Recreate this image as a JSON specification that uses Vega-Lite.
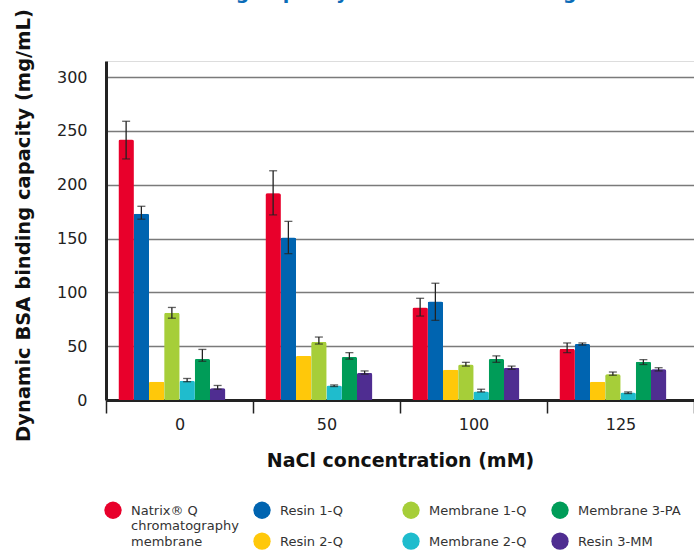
{
  "$schema": "https://vega.github.io/schema/vega-lite/v6.json",
  "width": 588,
  "height": 339,
  "autosize": {"type": "none"},
  "padding": {"left": 106, "top": 61, "right": 0, "bottom": 150},
  "background": "white",
  "title": {
    "text": "BSA Binding Capacity at 10 % Breakthrough",
    "frame": "bounds",
    "anchor": "middle",
    "font": "DejaVu Sans",
    "fontSize": 19,
    "fontWeight": "bold",
    "color": "#0a6cb8",
    "dy": -2
  },
  "data": {
    "values": [
      {"nacl": "0", "series": "Natrix® Q chromatography membrane", "value": 242, "lo": 224, "hi": 259},
      {"nacl": "0", "series": "Resin 1-Q", "value": 173, "lo": 168, "hi": 180},
      {"nacl": "0", "series": "Resin 2-Q", "value": 17, "lo": null, "hi": null},
      {"nacl": "0", "series": "Membrane 1-Q", "value": 81, "lo": 76, "hi": 86},
      {"nacl": "0", "series": "Membrane 2-Q", "value": 18, "lo": 17, "hi": 20},
      {"nacl": "0", "series": "Membrane 3-PA", "value": 38, "lo": 36, "hi": 47},
      {"nacl": "0", "series": "Resin 3-MM", "value": 11, "lo": 10, "hi": 13.5},
      {"nacl": "50", "series": "Natrix® Q chromatography membrane", "value": 192, "lo": 172, "hi": 213},
      {"nacl": "50", "series": "Resin 1-Q", "value": 151, "lo": 136, "hi": 166},
      {"nacl": "50", "series": "Resin 2-Q", "value": 41, "lo": null, "hi": null},
      {"nacl": "50", "series": "Membrane 1-Q", "value": 54, "lo": 52, "hi": 58.5},
      {"nacl": "50", "series": "Membrane 2-Q", "value": 13.5, "lo": 12.5, "hi": 14},
      {"nacl": "50", "series": "Membrane 3-PA", "value": 40, "lo": 38, "hi": 44},
      {"nacl": "50", "series": "Resin 3-MM", "value": 25, "lo": 24, "hi": 27},
      {"nacl": "100", "series": "Natrix® Q chromatography membrane", "value": 86, "lo": 78, "hi": 94.5},
      {"nacl": "100", "series": "Resin 1-Q", "value": 91.5, "lo": 74, "hi": 108.5},
      {"nacl": "100", "series": "Resin 2-Q", "value": 28, "lo": null, "hi": null},
      {"nacl": "100", "series": "Membrane 1-Q", "value": 33, "lo": 31.5, "hi": 35},
      {"nacl": "100", "series": "Membrane 2-Q", "value": 8, "lo": 7.5, "hi": 10},
      {"nacl": "100", "series": "Membrane 3-PA", "value": 38, "lo": 35, "hi": 41},
      {"nacl": "100", "series": "Resin 3-MM", "value": 30, "lo": 28.5, "hi": 31.5},
      {"nacl": "125", "series": "Natrix® Q chromatography membrane", "value": 47.5, "lo": 44, "hi": 53},
      {"nacl": "125", "series": "Resin 1-Q", "value": 52, "lo": 51, "hi": 53},
      {"nacl": "125", "series": "Resin 2-Q", "value": 17, "lo": null, "hi": null},
      {"nacl": "125", "series": "Membrane 1-Q", "value": 24, "lo": 23, "hi": 26},
      {"nacl": "125", "series": "Membrane 2-Q", "value": 7, "lo": 6, "hi": 7.5},
      {"nacl": "125", "series": "Membrane 3-PA", "value": 35.5, "lo": 33, "hi": 37.5},
      {"nacl": "125", "series": "Resin 3-MM", "value": 28.5, "lo": 27, "hi": 30}
    ]
  },
  "encoding": {
    "x": {
      "field": "nacl",
      "type": "nominal",
      "sort": ["0", "50", "100", "125"],
      "scale": {"paddingInner": 0, "paddingOuter": 0},
      "axis": {
        "title": "NaCl concentration (mM)",
        "labelAngle": 0,
        "tickBand": "extent",
        "domainWidth": 3,
        "domainColor": "#222222",
        "tickSize": 13,
        "tickWidth": 1.5,
        "tickColor": "#222222",
        "labelFont": "DejaVu Sans",
        "labelFontSize": 16,
        "labelColor": "#222222",
        "labelPadding": 3,
        "titleFont": "DejaVu Sans",
        "titleFontSize": 19,
        "titleFontWeight": "bold",
        "titleColor": "#111111",
        "titlePadding": 19,
        "grid": false
      }
    },
    "xOffset": {
      "field": "series",
      "type": "nominal",
      "scale": {
        "domain": ["Natrix® Q chromatography membrane", "Resin 1-Q", "Resin 2-Q", "Membrane 1-Q", "Membrane 2-Q", "Membrane 3-PA", "Resin 3-MM", " "],
        "paddingInner": 0,
        "paddingOuter": 0.82
      }
    },
    "y": {
      "field": "value",
      "type": "quantitative",
      "scale": {"domain": [0, 315], "nice": false},
      "axis": {
        "title": "Dynamic BSA binding capacity (mg/mL)",
        "values": [0, 50, 100, 150, 200, 250, 300],
        "grid": true,
        "gridColor": "#7a7a7a",
        "gridWidth": 1.5,
        "domainWidth": 3,
        "domainColor": "#222222",
        "ticks": false,
        "labelFont": "DejaVu Sans",
        "labelFontSize": 16,
        "labelColor": "#222222",
        "labelPadding": 19,
        "titleFont": "DejaVu Sans",
        "titleFontSize": 19.5,
        "titleFontWeight": "bold",
        "titleColor": "#111111",
        "titlePadding": 23,
        "titleY": 164
      }
    }
  },
  "layer": [
    {
      "mark": {"type": "bar", "cornerRadiusEnd": 2},
      "encoding": {
        "color": {
          "field": "series",
          "type": "nominal",
          "scale": {
            "domain": ["Natrix® Q chromatography membrane", "Resin 1-Q", "Membrane 1-Q", "Membrane 3-PA", "Resin 2-Q", "Membrane 2-Q", "Resin 3-MM"],
            "range": ["#e8002b", "#0064b0", "#a6ce39", "#009c58", "#ffc80a", "#1fbccd", "#4f2d91"]
          },
          "legend": {
            "title": null,
            "values": ["Natrix® Q chromatography membrane", "Resin 1-Q", "Membrane 1-Q", "Membrane 3-PA"],
            "orient": "none",
            "direction": "horizontal",
            "legendX": -2,
            "legendY": 440,
            "columns": 4,
            "gridAlign": "all",
            "columnPadding": 14,
            "symbolType": "circle",
            "symbolSize": 300,
            "symbolStrokeWidth": 0,
            "labelFont": "DejaVu Sans",
            "labelFontSize": 13,
            "labelColor": "#333333",
            "labelOffset": 9,
            "labelLimit": 300,
            "labelBaseline": "alphabetic",
            "labelExpr": "datum.label == 'Natrix® Q chromatography membrane' ? ['Natrix® Q', 'chromatography', 'membrane'] : [datum.label, '', '']",
            "encode": {"labels": {"update": {"dy": {"value": 4.5}, "lineHeight": {"value": 15.5}}}}
          }
        }
      }
    },
    {
      "mark": {"type": "bar", "cornerRadiusEnd": 2},
      "encoding": {
        "fill": {
          "field": "series",
          "type": "nominal",
          "scale": {
            "domain": ["Resin 2-Q", "Membrane 2-Q", "Resin 3-MM", "Natrix® Q chromatography membrane", "Resin 1-Q", "Membrane 1-Q", "Membrane 3-PA"],
            "range": ["#ffc80a", "#1fbccd", "#4f2d91", "#e8002b", "#0064b0", "#a6ce39", "#009c58"]
          },
          "legend": {
            "title": null,
            "values": ["Resin 2-Q", "Membrane 2-Q", "Resin 3-MM"],
            "orient": "none",
            "direction": "horizontal",
            "legendX": 147,
            "legendY": 471,
            "columns": 3,
            "gridAlign": "all",
            "columnPadding": 24,
            "symbolType": "circle",
            "symbolSize": 300,
            "symbolStrokeWidth": 0,
            "labelFont": "DejaVu Sans",
            "labelFontSize": 13,
            "labelColor": "#333333",
            "labelOffset": 9,
            "labelLimit": 300,
            "labelBaseline": "alphabetic",
            "encode": {"labels": {"update": {"dy": {"value": 4.5}}}}
          }
        }
      }
    },
    {
      "mark": {"type": "rule", "color": "#222222", "strokeWidth": 1.3},
      "encoding": {
        "y": {"field": "lo", "type": "quantitative"},
        "y2": {"field": "hi"}
      }
    },
    {
      "mark": {"type": "tick", "color": "#222222", "thickness": 1.3, "size": 8},
      "encoding": {
        "y": {"field": "lo", "type": "quantitative"}
      }
    },
    {
      "mark": {"type": "tick", "color": "#222222", "thickness": 1.3, "size": 8},
      "encoding": {
        "y": {"field": "hi", "type": "quantitative"}
      }
    }
  ]
}
